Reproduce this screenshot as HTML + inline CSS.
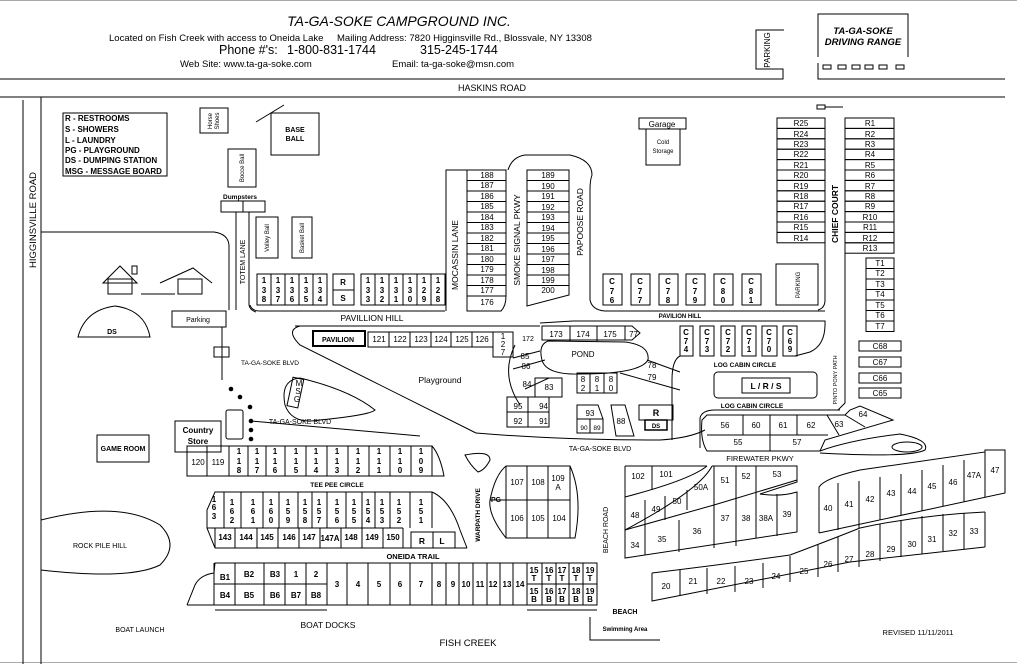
<!DOCTYPE html>
<html><head><meta charset="utf-8"><style>
html,body{margin:0;padding:0;background:#fff}
svg{display:block;font-family:"Liberation Sans",Arial,sans-serif}
.s{fill:none;stroke:#000;stroke-width:1}
.l{fill:none;stroke:#000;stroke-width:1}
text{font-size:8px;text-anchor:middle;fill:#000}
.b{font-weight:bold}
.st{text-anchor:start}
</style></head><body>
<svg width="1017" height="664" viewBox="0 0 1017 664" xmlns="http://www.w3.org/2000/svg">
<line x1="0" y1="0.5" x2="1017" y2="0.5" stroke="#aaa"/>
<line x1="0" y1="662.5" x2="1017" y2="662.5" stroke="#aaa"/>
<!-- header -->
<text x="399" y="26" style="font-size:14px;font-style:italic">TA-GA-SOKE  CAMPGROUND  INC.</text>
<text x="109" y="41" class="st" style="font-size:9.5px">Located on Fish Creek with access to Oneida Lake</text>
<text x="337" y="41" class="st" style="font-size:9.5px">Mailing Address:  7820 Higginsville Rd., Blossvale, NY  13308</text>
<text x="219" y="54" class="st" style="font-size:12.5px">Phone #'s:</text>
<text x="287" y="54" class="st" style="font-size:12.5px">1-800-831-1744</text>
<text x="420" y="54" class="st" style="font-size:12.5px">315-245-1744</text>
<text x="180" y="67" class="st" style="font-size:9.5px">Web Site:  www.ta-ga-soke.com</text>
<text x="392" y="67" class="st" style="font-size:9.5px">Email:  ta-ga-soke@msn.com</text>
<!-- driving range / parking -->
<path class="l" d="M818 57 V14 H908 V57"/>
<text x="863" y="34" class="b" style="font-size:9.5px;font-style:italic">TA-GA-SOKE</text>
<text x="863" y="45" class="b" style="font-size:9.5px;font-style:italic">DRIVING RANGE</text>
<g class="s"><rect x="823" y="65" width="8" height="4"/><rect x="838" y="65" width="8" height="4"/><rect x="852" y="65" width="8" height="4"/><rect x="865" y="65" width="8" height="4"/><rect x="879" y="65" width="8" height="4"/><rect x="896" y="65" width="8" height="4"/></g>
<path class="l" d="M818 63 V79 H1005"/>
<path class="l" d="M784 30 H756 V69 H783 V79 H0"/>
<text transform="translate(770,50) rotate(-90)" style="font-size:8px">PARKING</text>
<line class="l" x1="0" y1="97" x2="1005" y2="97"/>
<text x="492" y="91" style="font-size:9px">HASKINS  ROAD</text>
<rect class="s" x="817" y="105" width="8" height="4"/><line class="l" x1="825" y1="107" x2="843" y2="107"/>
<!-- left road -->
<line class="l" x1="23" y1="100" x2="23" y2="664"/>
<path class="l" d="M41 664 V97 H1005"/>
<text transform="translate(36,220) rotate(-90)" style="font-size:9.5px">HIGGINSVILLE   ROAD</text>
<!-- legend -->
<rect class="s" x="63" y="113" width="104" height="63"/>
<g class="b" style="font-size:6.5px">
<text x="65" y="121" class="st">R - RESTROOMS</text>
<text x="65" y="132" class="st">S - SHOWERS</text>
<text x="65" y="143" class="st">L - LAUNDRY</text>
<text x="65" y="153" class="st">PG - PLAYGROUND</text>
<text x="65" y="163" class="st">DS - DUMPING STATION</text>
<text x="65" y="174" class="st">MSG - MESSAGE BOARD</text>
</g>
<rect class="s" x="200" y="108" width="28" height="25"/>
<text transform="translate(212,121) rotate(-90)" style="font-size:6px">Horse</text>
<text transform="translate(219,121) rotate(-90)" style="font-size:6px">Shoes</text>
<rect class="s" x="271" y="113" width="48" height="42"/>
<text x="295" y="132" class="b" style="font-size:7px">BASE</text><text x="295" y="141" class="b" style="font-size:7px">BALL</text>
<line class="l" x1="256" y1="122" x2="284" y2="105"/>
<rect class="s" x="228" y="149" width="28" height="38"/>
<text transform="translate(244,168) rotate(-90)" style="font-size:6px">Bocce Ball</text>
<text x="240" y="199" class="b" style="font-size:6.5px">Dumpsters</text>
<rect class="s" x="221" y="201" width="22" height="11"/><rect class="s" x="243" y="201" width="22" height="11"/>
<line class="l" x1="236" y1="212" x2="236" y2="310"/><path class="l" d="M249 212 V305 Q250 310 256 312"/>
<text transform="translate(245,262) rotate(-90)" style="font-size:7px">TOTEM LANE</text>
<rect class="s" x="256" y="217" width="22" height="41"/>
<text transform="translate(269,238) rotate(-90)" style="font-size:6px">Volley Ball</text>
<rect class="s" x="292" y="217" width="20" height="41"/>
<text transform="translate(304,238) rotate(-90)" style="font-size:6px">Basket Ball</text>
<!-- area left -->
<path class="l" d="M41 232 H214 Q228 234 229 245 V310"/>
<path class="l" d="M103 283 L120 266 L137 283 Z"/><rect class="s" x="108" y="279" width="24" height="15"/><rect class="s" x="132" y="266" width="5" height="8"/>
<path class="l" d="M160 283 L193 268 L212 283"/><rect class="s" x="178" y="279" width="24" height="15"/><line class="l" x1="141" y1="294" x2="175" y2="294"/>
<path class="l" d="M78 337 Q85 310 115 306 Q145 310 150 337 Z"/>
<text x="112" y="334" class="b" style="font-size:7px">DS</text>
<rect class="s" x="172" y="311" width="54" height="16"/><text x="198" y="322" style="font-size:7px">Parking</text>
<line class="l" x1="222" y1="327" x2="222" y2="380"/><rect class="s" x="214" y="347" width="15" height="10"/>
<text x="100" y="548" style="font-size:7px">ROCK PILE HILL</text>
<path class="l" d="M41 520 Q120 500 160 525 Q180 545 160 565 Q130 580 41 570"/>
<rect class="s" x="97" y="435" width="52" height="27"/><text x="123" y="451" class="b" style="font-size:7px">GAME ROOM</text>
<rect class="s" x="175" y="421" width="46" height="31"/><text x="198" y="433" class="b" style="font-size:8px">Country</text><text x="198" y="444" class="b" style="font-size:8px">Store</text>
<!-- 138-134 -->
<g class="s"><rect x="257" y="274" width="14" height="31"/><rect x="271" y="274" width="14" height="31"/><rect x="285" y="274" width="14" height="31"/><rect x="299" y="274" width="14" height="31"/><rect x="313" y="274" width="14" height="31"/>
<rect x="333" y="274" width="21" height="31"/><line x1="333" y1="290" x2="354" y2="290"/>
<rect x="361" y="274" width="14" height="31"/><rect x="375" y="274" width="14" height="31"/><rect x="389" y="274" width="14" height="31"/><rect x="403" y="274" width="14" height="31"/><rect x="417" y="274" width="14" height="31"/><rect x="431" y="274" width="14" height="31"/></g>
<g class="b" style="font-size:6.5px">
<text x="264" y="283">1</text><text x="264" y="293">3</text><text x="264" y="302">8</text>
<text x="278" y="283">1</text><text x="278" y="293">3</text><text x="278" y="302">7</text>
<text x="292" y="283">1</text><text x="292" y="293">3</text><text x="292" y="302">6</text>
<text x="306" y="283">1</text><text x="306" y="293">3</text><text x="306" y="302">5</text>
<text x="320" y="283">1</text><text x="320" y="293">3</text><text x="320" y="302">4</text>
<text x="368" y="283">1</text><text x="368" y="293">3</text><text x="368" y="302">3</text>
<text x="382" y="283">1</text><text x="382" y="293">3</text><text x="382" y="302">2</text>
<text x="396" y="283">1</text><text x="396" y="293">3</text><text x="396" y="302">1</text>
<text x="410" y="283">1</text><text x="410" y="293">3</text><text x="410" y="302">0</text>
<text x="424" y="283">1</text><text x="424" y="293">2</text><text x="424" y="302">9</text>
<text x="438" y="283">1</text><text x="438" y="293">2</text><text x="438" y="302">8</text>
</g>
<text x="343" y="285" class="b" style="font-size:8px">R</text><text x="343" y="301" class="b" style="font-size:8px">S</text>
<path class="l" d="M250 305 Q252 311 260 311 H445"/>
<text x="372" y="321" style="font-size:8.5px">PAVILLION HILL</text>
<!-- mocassin -->
<path class="l" d="M446 311 V170 H467"/>
<text transform="translate(458,255) rotate(-90)" style="font-size:8.5px">MOCASSIN LANE</text>
<g class="s"><rect x="467" y="170" width="39" height="10.5"/><rect x="467" y="180.5" width="39" height="10.5"/><rect x="467" y="191" width="39" height="10.5"/><rect x="467" y="201.5" width="39" height="10.5"/><rect x="467" y="212" width="39" height="10.5"/><rect x="467" y="222.5" width="39" height="10.5"/><rect x="467" y="233" width="39" height="10.5"/><rect x="467" y="243.5" width="39" height="10.5"/><rect x="467" y="254" width="39" height="10.5"/><rect x="467" y="264.5" width="39" height="10.5"/><rect x="467" y="275" width="39" height="10.5"/><rect x="467" y="285.5" width="39" height="10.5"/></g>
<path class="l" d="M467 296 V311 H501 Q506 306 506 296"/>
<g style="font-size:7.5px"><text x="487" y="178">188</text><text x="487" y="188">187</text><text x="487" y="199">186</text><text x="487" y="209">185</text><text x="487" y="220">184</text><text x="487" y="230">183</text><text x="487" y="241">182</text><text x="487" y="251">181</text><text x="487" y="262">180</text><text x="487" y="272">179</text><text x="487" y="283">178</text><text x="487" y="293">177</text><text x="487" y="305">176</text></g>
<path class="l" d="M508 170 Q512 157 525 155 H570 Q592 160 592 175 Q590 180 590 190 V300 Q592 310 605 311 H825"/>
<text transform="translate(520,240) rotate(-90)" style="font-size:8.5px">SMOKE  SIGNAL  PKWY</text>
<g class="s"><rect x="527" y="170" width="42" height="10.5"/><rect x="527" y="180.5" width="42" height="10.5"/><rect x="527" y="191" width="42" height="10.5"/><rect x="527" y="201.5" width="42" height="10.5"/><rect x="527" y="212" width="42" height="10.5"/><rect x="527" y="222.5" width="42" height="10.5"/><rect x="527" y="233" width="42" height="10.5"/><rect x="527" y="243.5" width="42" height="10.5"/><rect x="527" y="254" width="42" height="10.5"/><rect x="527" y="264.5" width="42" height="10.5"/><rect x="527" y="275" width="42" height="10.5"/></g>
<path class="l" d="M527 285 V306 L569 295 V285"/>
<g style="font-size:7.5px"><text x="548" y="178">189</text><text x="548" y="189">190</text><text x="548" y="199">191</text><text x="548" y="210">192</text><text x="548" y="220">193</text><text x="548" y="231">194</text><text x="548" y="241">195</text><text x="548" y="252">196</text><text x="548" y="262">197</text><text x="548" y="273">198</text><text x="548" y="283">199</text><text x="548" y="293">200</text></g>
<text transform="translate(583,222) rotate(-90)" style="font-size:8.5px">PAPOOSE   ROAD</text>
<!-- garage -->
<rect class="s" x="639" y="118" width="47" height="11"/><text x="662" y="127" style="font-size:8px">Garage</text>
<rect class="s" x="646" y="129" width="34" height="36"/><text x="663" y="144" style="font-size:6px">Cold</text><text x="663" y="153" style="font-size:6px">Storage</text>
<!-- R column -->
<g class="s"><rect x="777" y="118" width="48" height="10.4"/><rect x="777" y="128.4" width="48" height="10.4"/><rect x="777" y="138.8" width="48" height="10.4"/><rect x="777" y="149.2" width="48" height="10.4"/><rect x="777" y="159.6" width="48" height="10.4"/><rect x="777" y="170" width="48" height="10.4"/><rect x="777" y="180.4" width="48" height="10.4"/><rect x="777" y="190.8" width="48" height="10.4"/><rect x="777" y="201.2" width="48" height="10.4"/><rect x="777" y="211.6" width="48" height="10.4"/><rect x="777" y="222" width="48" height="10.4"/><rect x="777" y="232.4" width="48" height="10.4"/>
<rect x="845" y="118" width="49" height="10.4"/><rect x="845" y="128.4" width="49" height="10.4"/><rect x="845" y="138.8" width="49" height="10.4"/><rect x="845" y="149.2" width="49" height="10.4"/><rect x="845" y="159.6" width="49" height="10.4"/><rect x="845" y="170" width="49" height="10.4"/><rect x="845" y="180.4" width="49" height="10.4"/><rect x="845" y="190.8" width="49" height="10.4"/><rect x="845" y="201.2" width="49" height="10.4"/><rect x="845" y="211.6" width="49" height="10.4"/><rect x="845" y="222" width="49" height="10.4"/><rect x="845" y="232.4" width="49" height="10.4"/><rect x="845" y="242.8" width="49" height="10.4"/>
<rect x="866" y="258" width="28" height="10.5"/><rect x="866" y="268.5" width="28" height="10.5"/><rect x="866" y="279" width="28" height="10.5"/><rect x="866" y="289.5" width="28" height="10.5"/><rect x="866" y="300" width="28" height="10.5"/><rect x="866" y="310.5" width="28" height="10.5"/><rect x="866" y="321" width="28" height="10.5"/>
<rect x="859" y="341" width="42" height="10"/><rect x="859" y="357" width="42" height="10"/><rect x="859" y="373" width="42" height="10"/><rect x="859" y="388" width="42" height="10"/></g>
<g style="font-size:7.5px"><text x="801" y="126">R25</text><text x="801" y="137">R24</text><text x="801" y="147">R23</text><text x="801" y="157">R22</text><text x="801" y="168">R21</text><text x="801" y="178">R20</text><text x="801" y="189">R19</text><text x="801" y="199">R18</text><text x="801" y="209">R17</text><text x="801" y="220">R16</text><text x="801" y="230">R15</text><text x="801" y="241">R14</text>
<text x="870" y="126">R1</text><text x="870" y="137">R2</text><text x="870" y="147">R3</text><text x="870" y="157">R4</text><text x="870" y="168">R5</text><text x="870" y="178">R6</text><text x="870" y="189">R7</text><text x="870" y="199">R8</text><text x="870" y="209">R9</text><text x="870" y="220">R10</text><text x="870" y="230">R11</text><text x="870" y="241">R12</text><text x="870" y="251">R13</text>
<text x="880" y="266">T1</text><text x="880" y="276">T2</text><text x="880" y="287">T3</text><text x="880" y="297">T4</text><text x="880" y="308">T5</text><text x="880" y="318">T6</text><text x="880" y="329">T7</text>
<text x="880" y="349">C68</text><text x="880" y="365">C67</text><text x="880" y="381">C66</text><text x="880" y="396">C65</text></g>
<line class="l" x1="825" y1="243" x2="825" y2="300"/><path class="l" d="M825 300 Q825 308 818 310"/>
<path class="l" d="M845 253 V403 L838 410"/>
<text transform="translate(838,214) rotate(-90)" class="b" style="font-size:8.5px">CHIEF  COURT</text>
<text transform="translate(837,380) rotate(-90)" style="font-size:5.5px">PINTO PONY PATH</text>
<!-- C76-81 -->
<g class="s"><rect x="603" y="274" width="19" height="31"/><rect x="631" y="274" width="19" height="31"/><rect x="659" y="274" width="19" height="31"/><rect x="686" y="274" width="19" height="31"/><rect x="714" y="274" width="19" height="31"/><rect x="742" y="274" width="19" height="31"/><rect x="776" y="264" width="42" height="41"/>
<rect x="680" y="326" width="13" height="30"/><rect x="700" y="326" width="14" height="30"/><rect x="721" y="326" width="14" height="30"/><rect x="742" y="326" width="14" height="30"/><rect x="762" y="326" width="15" height="30"/><rect x="783" y="326" width="14" height="30"/></g>
<g class="b" style="font-size:6.5px">
<text x="612" y="284">C</text><text x="612" y="294">7</text><text x="612" y="303">6</text>
<text x="640" y="284">C</text><text x="640" y="294">7</text><text x="640" y="303">7</text>
<text x="668" y="284">C</text><text x="668" y="294">7</text><text x="668" y="303">8</text>
<text x="695" y="284">C</text><text x="695" y="294">7</text><text x="695" y="303">9</text>
<text x="723" y="284">C</text><text x="723" y="294">8</text><text x="723" y="303">0</text>
<text x="751" y="284">C</text><text x="751" y="294">8</text><text x="751" y="303">1</text>
<text x="686" y="335">C</text><text x="686" y="344">7</text><text x="686" y="352">4</text>
<text x="707" y="335">C</text><text x="707" y="344">7</text><text x="707" y="352">3</text>
<text x="728" y="335">C</text><text x="728" y="344">7</text><text x="728" y="352">2</text>
<text x="749" y="335">C</text><text x="749" y="344">7</text><text x="749" y="352">1</text>
<text x="769" y="335">C</text><text x="769" y="344">7</text><text x="769" y="352">0</text>
<text x="790" y="335">C</text><text x="790" y="344">6</text><text x="790" y="352">9</text>
</g>
<text transform="translate(800,285) rotate(-90)" style="font-size:6px">PARKING</text>
<text x="680" y="318" class="b" style="font-size:6px">PAVILION HILL</text>
<path class="l" d="M540 323 L573 321 H825 Q826 345 810 352 L795 356"/>
<text x="745" y="367" class="b" style="font-size:6.5px">LOG CABIN CIRCLE</text>
<rect class="s" x="714" y="372" width="103" height="26" rx="4"/>
<rect class="s" x="742" y="378" width="48" height="15"/><text x="766" y="389" class="b" style="font-size:8.5px">L / R / S</text>
<text x="752" y="408" class="b" style="font-size:6.5px">LOG CABIN CIRCLE</text>
<path class="l" d="M680 356 Q672 360 672 380 V440"/><path class="l" d="M700 448 V418 Q702 410 715 410 H840"/>
<!-- pavilion / pond -->
<path class="l" d="M300 326 Q285 330 300 345 L476 433"/>
<path class="l" d="M295 326 H540"/>
<rect x="313" y="331" width="52" height="15" fill="none" stroke="#000" stroke-width="2"/>
<text x="338" y="342" class="b" style="font-size:7px">PAVILION</text>
<g class="s"><rect x="368" y="332" width="21" height="15"/><rect x="389" y="332" width="21" height="15"/><rect x="410" y="332" width="21" height="15"/><rect x="431" y="332" width="20" height="15"/><rect x="451" y="332" width="21" height="15"/><rect x="472" y="332" width="21" height="15"/><rect x="493" y="332" width="20" height="25"/></g>
<g style="font-size:7.5px"><text x="379" y="342">121</text><text x="400" y="342">122</text><text x="421" y="342">123</text><text x="441" y="342">124</text><text x="462" y="342">125</text><text x="482" y="342">126</text></g>
<g style="font-size:6.5px"><text x="503" y="339">1</text><text x="503" y="347">2</text><text x="503" y="355">7</text></g>
<text x="528" y="341" style="font-size:7px">172</text>
<path class="l" d="M542 326 H625 L632 326 L640 333 L632 340 H542 Z"/>
<g class="l"><line x1="570" y1="326" x2="570" y2="341"/><line x1="597" y1="326" x2="597" y2="341"/><line x1="625" y1="326" x2="625" y2="340"/></g>
<g style="font-size:7.5px"><text x="556" y="337">173</text><text x="583" y="337">174</text><text x="610" y="337">175</text><text x="638" y="337" style="text-anchor:end">77</text></g>
<path class="l" d="M548 341 Q538 345 542 360 Q546 375 580 374 Q640 374 648 360 Q650 345 625 342 Z"/>
<text x="583" y="357" style="font-size:8px">POND</text>
<path class="l" d="M515 345 Q500 375 520 405"/><path class="l" d="M513 358 L540 351 M513 369 L545 360 M525 389 L549 378"/>
<g style="font-size:7.5px"><text x="525" y="359">85</text><text x="526" y="369">86</text><text x="527" y="387">84</text><text x="549" y="390">83</text><text x="652" y="368">78</text><text x="652" y="380">79</text></g>
<path class="l" d="M647 360 L680 372 M620 373 L680 390"/>
<g class="s"><rect x="535" y="378" width="27" height="19"/><rect x="507" y="397" width="21" height="15"/><rect x="528" y="397" width="21" height="15"/><rect x="507" y="412" width="21" height="15"/><rect x="528" y="412" width="21" height="15"/>
<rect x="577" y="373" width="13" height="20"/><rect x="590" y="373" width="14" height="20"/><rect x="604" y="373" width="13" height="20"/>
<rect x="577" y="419" width="13" height="14"/><rect x="590" y="419" width="13" height="14"/></g>
<path class="l" d="M577 419 V405 H598 L603 419"/><path class="l" d="M611 405 H625 L634 436 H616 Z"/>
<g style="font-size:7.5px"><text x="518" y="409">95</text><text x="548" y="409" style="text-anchor:end">94</text><text x="518" y="424">92</text><text x="548" y="424" style="text-anchor:end">91</text><text x="590" y="416">93</text><text x="584" y="430" style="font-size:6.5px">90</text><text x="597" y="430" style="font-size:6.5px">89</text><text x="621" y="424">88</text></g>
<g style="font-size:7px"><text x="583" y="382">8</text><text x="583" y="391">2</text><text x="597" y="382">8</text><text x="597" y="391">1</text><text x="611" y="382">8</text><text x="611" y="391">0</text></g>
<rect class="s" x="639" y="405" width="34" height="15"/><text x="656" y="416" class="b" style="font-size:9px">R</text>
<rect x="645" y="420" width="22" height="10" fill="none" stroke="#000" stroke-width="1.5"/><text x="656" y="428" class="b" style="font-size:6px">DS</text>
<path class="l" d="M476 433 Q560 440 660 440 Q690 438 705 430"/>
<text x="440" y="383" style="font-size:8.5px">Playground</text>
<text x="270" y="365" style="font-size:6.5px">TA-GA-SOKE  BLVD</text>
<text x="300" y="424" style="font-size:7px">TA-GA-SOKE  BLVD</text>
<text x="600" y="451" style="font-size:7px">TA-GA-SOKE  BLVD</text>
<path class="l" d="M300 378 Q280 380 285 405 Q292 425 320 420 Q370 415 375 410 Q350 390 300 378 Z"/>
<rect class="s" x="290" y="378" width="11" height="29" transform="rotate(12 295 392)"/>
<g style="font-size:5.5px"><text x="299" y="386">M</text><text x="298" y="394">S</text><text x="297" y="402">G</text></g>
<g fill="#000"><circle cx="231" cy="389" r="2.3"/><circle cx="240" cy="397" r="2.3"/><circle cx="250" cy="407" r="2.3"/><circle cx="251" cy="421" r="2.3"/><circle cx="251" cy="430" r="2.3"/><circle cx="251" cy="439" r="2.3"/></g>
<rect class="s" x="226" y="410" width="17" height="29" rx="2"/>
<path class="l" d="M251 421 L420 436"/>
<!-- tee pee rows -->
<g class="s"><rect x="187" y="446" width="20" height="30"/><rect x="207" y="446" width="22" height="30"/>
<path d="M229 446 H432 Q440 455 444 476 H229 Z"/>
<line x1="248" y1="446" x2="248" y2="476"/><line x1="266" y1="446" x2="266" y2="476"/><line x1="285" y1="446" x2="285" y2="476"/><line x1="306" y1="446" x2="306" y2="476"/><line x1="327" y1="446" x2="327" y2="476"/><line x1="348" y1="446" x2="348" y2="476"/><line x1="369" y1="446" x2="369" y2="476"/><line x1="390" y1="446" x2="390" y2="476"/><line x1="411" y1="446" x2="411" y2="476"/><line x1="432" y1="446" x2="432" y2="476"/></g>
<g style="font-size:7.5px"><text x="198" y="465">120</text><text x="218" y="465">119</text></g>
<g class="b" style="font-size:6.5px">
<text x="239" y="454">1</text><text x="239" y="464">1</text><text x="239" y="473">8</text>
<text x="257" y="454">1</text><text x="257" y="464">1</text><text x="257" y="473">7</text>
<text x="275" y="454">1</text><text x="275" y="464">1</text><text x="275" y="473">6</text>
<text x="296" y="454">1</text><text x="296" y="464">1</text><text x="296" y="473">5</text>
<text x="316" y="454">1</text><text x="316" y="464">1</text><text x="316" y="473">4</text>
<text x="337" y="454">1</text><text x="337" y="464">1</text><text x="337" y="473">3</text>
<text x="358" y="454">1</text><text x="358" y="464">1</text><text x="358" y="473">2</text>
<text x="379" y="454">1</text><text x="379" y="464">1</text><text x="379" y="473">1</text>
<text x="400" y="454">1</text><text x="400" y="464">1</text><text x="400" y="473">0</text>
<text x="421" y="454">1</text><text x="421" y="464">0</text><text x="421" y="473">9</text>
</g>
<text x="337" y="487" class="b" style="font-size:6.5px">TEE  PEE  CIRCLE</text>
<path class="l" d="M215 548 L207 528 L207 510 L215 492 H432 Q450 500 460 530 L467 548"/>
<line class="l" x1="207" y1="528" x2="403" y2="528"/>
<g class="l"><line x1="224" y1="492" x2="224" y2="528"/><line x1="241" y1="492" x2="241" y2="528"/><line x1="263" y1="492" x2="263" y2="528"/><line x1="279" y1="492" x2="279" y2="528"/><line x1="298" y1="492" x2="298" y2="528"/><line x1="312" y1="492" x2="312" y2="528"/><line x1="327" y1="492" x2="327" y2="528"/><line x1="346" y1="492" x2="346" y2="528"/><line x1="362" y1="492" x2="362" y2="528"/><line x1="375" y1="492" x2="375" y2="528"/><line x1="390" y1="492" x2="390" y2="528"/><line x1="410" y1="492" x2="410" y2="528"/><line x1="432" y1="492" x2="432" y2="528"/>
<line x1="215" y1="548" x2="467" y2="548"/><line x1="215" y1="528" x2="215" y2="548"/><line x1="235" y1="528" x2="235" y2="548"/><line x1="257" y1="528" x2="257" y2="548"/><line x1="278" y1="528" x2="278" y2="548"/><line x1="299" y1="528" x2="299" y2="548"/><line x1="320" y1="528" x2="320" y2="548"/><line x1="341" y1="528" x2="341" y2="548"/><line x1="362" y1="528" x2="362" y2="548"/><line x1="383" y1="528" x2="383" y2="548"/><line x1="403" y1="528" x2="403" y2="548"/></g>
<g class="b" style="font-size:6.5px">
<text x="214" y="502">1</text><text x="214" y="510">6</text><text x="214" y="519">3</text>
<text x="232" y="505">1</text><text x="232" y="514">6</text><text x="232" y="523">2</text>
<text x="253" y="505">1</text><text x="253" y="514">6</text><text x="253" y="523">1</text>
<text x="271" y="505">1</text><text x="271" y="514">6</text><text x="271" y="523">0</text>
<text x="288" y="505">1</text><text x="288" y="514">5</text><text x="288" y="523">9</text>
<text x="305" y="505">1</text><text x="305" y="514">5</text><text x="305" y="523">8</text>
<text x="319" y="505">1</text><text x="319" y="514">5</text><text x="319" y="523">7</text>
<text x="337" y="505">1</text><text x="337" y="514">5</text><text x="337" y="523">6</text>
<text x="354" y="505">1</text><text x="354" y="514">5</text><text x="354" y="523">5</text>
<text x="368" y="505">1</text><text x="368" y="514">5</text><text x="368" y="523">4</text>
<text x="382" y="505">1</text><text x="382" y="514">5</text><text x="382" y="523">3</text>
<text x="399" y="505">1</text><text x="399" y="514">5</text><text x="399" y="523">2</text>
<text x="421" y="505">1</text><text x="421" y="514">5</text><text x="421" y="523">1</text>
<text x="225" y="540">143</text><text x="246" y="540">144</text><text x="267" y="540">145</text><text x="289" y="540">146</text><text x="309" y="540">147</text><text x="330" y="541">147A</text><text x="351" y="540">148</text><text x="372" y="540">149</text><text x="393" y="540">150</text>
</g>
<rect class="s" x="411" y="532" width="22" height="16"/><rect class="s" x="433" y="532" width="22" height="16"/>
<text x="422" y="544" class="b" style="font-size:8.5px">R</text><text x="442" y="544" class="b" style="font-size:8.5px">L</text>
<text x="413" y="559" class="b" style="font-size:7.5px">ONEIDA TRAIL</text>
<path class="l" d="M465 455 Q490 450 490 460 Q485 470 478 472 Q470 465 465 455 Z"/>
<text transform="translate(480,515) rotate(-90)" class="b" style="font-size:6.5px">WARPATH DRIVE</text>
<path class="l" d="M506 466 H570 Q583 495 575 538 H506 Q488 515 490 500 Q495 475 506 466 Z"/>
<g class="l"><line x1="506" y1="466" x2="506" y2="538"/><line x1="527" y1="466" x2="527" y2="538"/><line x1="548" y1="466" x2="548" y2="538"/><line x1="570" y1="466" x2="570" y2="538"/><line x1="490" y1="500" x2="570" y2="500"/></g>
<g style="font-size:7.5px"><text x="517" y="485">107</text><text x="538" y="485">108</text><text x="558" y="481">109</text><text x="558" y="490">A</text><text x="517" y="521">106</text><text x="538" y="521">105</text><text x="559" y="521">104</text></g>
<text x="496" y="502" class="b" style="font-size:7px">PG</text>
<!-- bottom row -->
<path class="l" d="M187 605 L195 585 Q200 575 214 573 L215 563 H597 V605 H187"/>
<g class="l"><line x1="214" y1="563" x2="214" y2="605"/><line x1="235" y1="563" x2="235" y2="605"/><line x1="264" y1="563" x2="264" y2="605"/><line x1="285" y1="563" x2="285" y2="605"/><line x1="306" y1="563" x2="306" y2="605"/><line x1="327" y1="563" x2="327" y2="605"/><line x1="347" y1="563" x2="347" y2="605"/><line x1="368" y1="563" x2="368" y2="605"/><line x1="390" y1="563" x2="390" y2="605"/><line x1="410" y1="563" x2="410" y2="605"/><line x1="432" y1="563" x2="432" y2="605"/><line x1="446" y1="563" x2="446" y2="605"/><line x1="459" y1="563" x2="459" y2="605"/><line x1="473" y1="563" x2="473" y2="605"/><line x1="487" y1="563" x2="487" y2="605"/><line x1="500" y1="563" x2="500" y2="605"/><line x1="513" y1="563" x2="513" y2="605"/><line x1="527" y1="563" x2="527" y2="605"/><line x1="542" y1="563" x2="542" y2="605"/><line x1="556" y1="563" x2="556" y2="605"/><line x1="569" y1="563" x2="569" y2="605"/><line x1="583" y1="563" x2="583" y2="605"/>
<line x1="214" y1="584" x2="327" y2="584"/><line x1="527" y1="584" x2="597" y2="584"/></g>
<g class="b" style="font-size:7px">
<text x="225" y="580">B1</text><text x="249" y="577">B2</text><text x="275" y="577">B3</text><text x="296" y="577">1</text><text x="316" y="577">2</text>
<text x="225" y="598">B4</text><text x="249" y="598">B5</text><text x="275" y="598">B6</text><text x="296" y="598" fill="#264">B7</text><text x="316" y="598" fill="#264">B8</text>
<text x="337" y="587">3</text><text x="358" y="587">4</text><text x="379" y="587">5</text><text x="400" y="587">6</text><text x="421" y="587">7</text><text x="439" y="587">8</text><text x="453" y="587">9</text><text x="466" y="587">10</text><text x="480" y="587">11</text><text x="493" y="587">12</text><text x="507" y="587">13</text><text x="520" y="587">14</text>
<g style="font-size:6px"><text x="534" y="573">15</text><text x="534" y="581">T</text><text x="549" y="573">16</text><text x="549" y="581">T</text><text x="562" y="573">17</text><text x="562" y="581">T</text><text x="576" y="573">18</text><text x="576" y="581">T</text><text x="590" y="573">19</text><text x="590" y="581">T</text>
<text x="534" y="594">15</text><text x="534" y="602">B</text><text x="549" y="594">16</text><text x="549" y="602">B</text><text x="562" y="594">17</text><text x="562" y="602">B</text><text x="576" y="594">18</text><text x="576" y="602">B</text><text x="590" y="594">19</text><text x="590" y="602">B</text></g>
</g>
<line class="l" x1="215" y1="610" x2="327" y2="610"/><line class="l" x1="527" y1="610" x2="597" y2="610"/>
<text x="328" y="628" style="font-size:8.5px">BOAT  DOCKS</text>
<text x="468" y="646" style="font-size:9.5px">FISH CREEK</text>
<text x="140" y="632" style="font-size:7px">BOAT LAUNCH</text>
<text x="625" y="614" class="b" style="font-size:7px">BEACH</text>
<path class="l" d="M590 617 V640 H660"/><text x="625" y="631" class="b" style="font-size:6px">Swimming Area</text>
<text transform="translate(608,530) rotate(-90)" style="font-size:7px">BEACH  ROAD</text>
<text x="918" y="635" style="font-size:7.5px">REVISED 11/11/2011</text>
<!-- east -->
<path class="l" d="M707 415 H845 L850 410 L860 406 L893 420 L825 440 L820 451 H707 Q700 440 702 420 Z"/>
<g class="l"><line x1="707" y1="435" x2="828" y2="435"/><line x1="743" y1="415" x2="743" y2="435"/><line x1="770" y1="415" x2="770" y2="451"/><line x1="797" y1="415" x2="797" y2="435"/><line x1="827" y1="415" x2="839" y2="435"/><line x1="845" y1="415" x2="865" y2="427"/></g>
<g style="font-size:7.5px"><text x="725" y="428">56</text><text x="756" y="428">60</text><text x="783" y="428">61</text><text x="811" y="428">62</text><text x="839" y="427">63</text><text x="863" y="417">64</text><text x="738" y="445">55</text><text x="797" y="445">57</text></g>
<path class="l" d="M820 451 Q850 440 900 434 Q930 440 925 450 Q910 458 820 453"/>
<ellipse class="l" cx="907" cy="447" rx="15" ry="5"/>
<text x="760" y="461" style="font-size:7.5px">FIREWATER PKWY</text>
<!-- 102-39 block -->
<path class="l" d="M625 466 H707 M707 466 Q690 480 625 497 M712 466 Q700 490 625 530 M625 466 V558 L797 532 V492 Q780 497 760 494 L797 482 V466 H712"/>
<g class="l"><line x1="652" y1="466" x2="652" y2="490"/><line x1="645" y1="500" x2="645" y2="555"/><line x1="665" y1="496" x2="665" y2="520"/><line x1="687" y1="490" x2="687" y2="510"/><line x1="714" y1="466" x2="714" y2="548"/><line x1="736" y1="466" x2="736" y2="546"/><line x1="756" y1="466" x2="756" y2="538"/><line x1="777" y1="494" x2="777" y2="536"/><line x1="679" y1="520" x2="679" y2="552"/><line x1="625" y1="530" x2="714" y2="505"/><line x1="714" y1="505" x2="797" y2="480"/></g>
<g style="font-size:7.5px"><text x="638" y="479">102</text><text x="666" y="477">101</text><text x="701" y="490">50A</text><text x="725" y="483">51</text><text x="746" y="479">52</text><text x="777" y="477">53</text><text x="635" y="518">48</text><text x="656" y="512">49</text><text x="677" y="504">50</text><text x="725" y="521">37</text><text x="746" y="521">38</text><text x="766" y="521">38A</text><text x="787" y="517">39</text><text x="635" y="548">34</text><text x="662" y="542">35</text><text x="697" y="534">36</text></g>
<!-- 40-47 -->
<path class="l" d="M819 533 V487 Q825 478 860 470 L985 452 V450 H1005 V493 L819 533"/>
<g class="l"><line x1="838" y1="483" x2="838" y2="530"/><line x1="859" y1="481" x2="859" y2="528"/><line x1="880" y1="477" x2="880" y2="520"/><line x1="901" y1="474" x2="901" y2="515"/><line x1="922" y1="470" x2="922" y2="511"/><line x1="943" y1="465" x2="943" y2="506"/><line x1="964" y1="460" x2="964" y2="502"/><line x1="985" y1="452" x2="985" y2="497"/></g>
<g style="font-size:7.5px"><text x="828" y="511">40</text><text x="849" y="507">41</text><text x="870" y="502">42</text><text x="891" y="496">43</text><text x="912" y="494">44</text><text x="932" y="489">45</text><text x="953" y="485">46</text><text x="974" y="478">47A</text><text x="995" y="473">47</text></g>
<!-- 20-33 -->
<path class="l" d="M652 573 Q720 565 790 555 Q830 540 860 528 Q920 515 985 512 M652 573 V601 L850 562 L985 547"/>
<g class="l"><line x1="680" y1="570" x2="680" y2="596"/><line x1="707" y1="568" x2="707" y2="594"/><line x1="735" y1="566" x2="735" y2="592"/><line x1="763" y1="563" x2="763" y2="588"/><line x1="790" y1="556" x2="790" y2="582"/><line x1="818" y1="545" x2="818" y2="577"/><line x1="838" y1="537" x2="838" y2="572"/><line x1="859" y1="530" x2="859" y2="567"/><line x1="880" y1="524" x2="880" y2="561"/><line x1="901" y1="520" x2="901" y2="557"/><line x1="922" y1="516" x2="922" y2="554"/><line x1="943" y1="514" x2="943" y2="551"/><line x1="964" y1="513" x2="964" y2="549"/><line x1="985" y1="512" x2="985" y2="547"/></g>
<g style="font-size:7.5px"><text x="666" y="589">20</text><text x="693" y="584">21</text><text x="721" y="584">22</text><text x="749" y="584">23</text><text x="776" y="579">24</text><text x="804" y="574">25</text><text x="828" y="567">26</text><text x="849" y="562">27</text><text x="870" y="557">28</text><text x="891" y="552">29</text><text x="912" y="547">30</text><text x="932" y="542">31</text><text x="953" y="536">32</text><text x="974" y="534">33</text></g>
</svg>
</body></html>
